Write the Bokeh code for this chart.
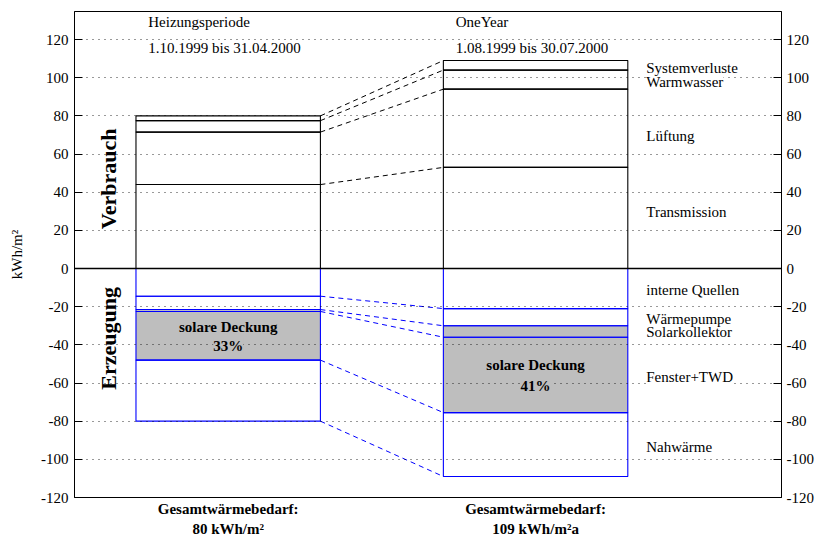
import numpy as np
from bokeh.plotting import figure
from bokeh.models import Range1d, FixedTicker, LinearAxis, Label, Span
from bokeh.embed import file_html
from bokeh.resources import INLINE

# ---------------- data ----------------
periods = ["Heizungsperiode", "OneYear"]
period_dates = ["1.10.1999 bis 31.04.2000", "1.08.1999 bis 30.07.2000"]
bar_x = [1, 2]

verbrauch_names = ["Transmission", "Lüftung", "Warmwasser", "Systemverluste"]
verbrauch_heiz = [44.0, 27.5, 6.0, 2.5]
verbrauch_year = [53.0, 41.0, 10.0, 5.0]

erzeugung_names = ["interne Quellen", "Wärmepumpe", "Solarkollektor", "Fenster+TWD", "Nahwärme"]
erzeugung_heiz = [14.5, 7.0, 1.0, 25.5, 32.0]
erzeugung_year = [21.0, 9.0, 6.0, 39.5, 33.5]
solar_parts = ["Solarkollektor", "Fenster+TWD"]

deckung = ["33%", "41%"]
gesamt_title = "Gesamtwärmebedarf:"
gesamt = ["80 kWh/m²", "109 kWh/m²a"]
y_ticks = [-120, -100, -80, -60, -40, -20, 0, 20, 40, 60, 80, 100, 120]

# ---------------- layout / style ----------------
FONT = "Liberation Serif"
BLUE = "#0000ff"
GRAY = "#bebebe"
HALF = 0.3
verbrauch_label_y = [29.4, 69.7, 97.5, 105.3]
verbrauch_label_bg = [False, False, True, True]
erzeugung_label_y = [-11.0, -26.7, -33.5, -57.1, -93.3]
erzeugung_label_bg = [False, False, False, True, False]

p = figure(width=816, height=540,
           x_range=Range1d(0.5, 2.8), y_range=Range1d(-120, 134.7),
           output_backend="svg", toolbar_location=None,
           x_axis_type=None,
           min_border_left=74, min_border_right=34,
           min_border_top=11, min_border_bottom=43)
p.background_fill_color = "white"
p.border_fill_color = "white"
p.outline_line_color = "black"
p.outline_line_width = 1
p.xgrid.visible = False

tick_text = {t: str(t) for t in y_ticks}

# left axis
ya = p.yaxis[0]
ya.ticker = FixedTicker(ticks=y_ticks)
ya.major_label_overrides = tick_text
ya.major_tick_in = 8
ya.major_tick_out = 0
ya.minor_tick_in = 0
ya.minor_tick_out = 0
ya.axis_line_color = "black"
ya.major_tick_line_color = "black"
ya.major_label_text_font = FONT
ya.major_label_text_font_size = "15px"
ya.major_label_text_color = "black"
ya.major_label_standoff = 6
ya.axis_label = "kWh/m²"
ya.axis_label_text_font = FONT
ya.axis_label_text_font_size = "15px"
ya.axis_label_text_font_style = "normal"
ya.axis_label_text_color = "black"
ya.axis_label_standoff = 13

# right axis
ra = LinearAxis(ticker=FixedTicker(ticks=y_ticks),
                major_label_overrides=tick_text,
                major_tick_in=8, major_tick_out=0,
                minor_tick_in=0, minor_tick_out=0,
                major_label_standoff=5,
                major_label_text_font=FONT, major_label_text_font_size="15px",
                major_label_text_color="black",
                axis_line_color="black", major_tick_line_color="black")
p.add_layout(ra, "right")

# bottom axis carrying the totals
xa = LinearAxis(ticker=FixedTicker(ticks=bar_x),
                major_label_overrides={bx: gesamt_title + "\n" + g for bx, g in zip(bar_x, gesamt)},
                major_tick_in=0, major_tick_out=0,
                minor_tick_in=0, minor_tick_out=0,
                major_label_standoff=3,
                major_label_text_font=FONT, major_label_text_font_size="15px",
                major_label_text_font_style="bold",
                major_label_text_line_height=1.3,
                major_label_text_color="black",
                axis_line_color=None, major_tick_line_color=None)
p.add_layout(xa, "below")

# grid
p.ygrid.ticker = FixedTicker(ticks=[t for t in y_ticks if t != 0])
p.ygrid.grid_line_color = "black"
p.ygrid.grid_line_alpha = 0.8
p.ygrid.grid_line_dash = "1 5"
p.ygrid.level = "guide"

# ---------------- bars ----------------
series_v = [verbrauch_heiz, verbrauch_year]
series_e = [erzeugung_heiz, erzeugung_year]
cum_v = [np.cumsum(s) for s in series_v]
cum_e = [np.cumsum(s) for s in series_e]

for i, xc in enumerate(bar_x):
    for j, name in enumerate(erzeugung_names):
        if name in solar_parts:
            top = -(cum_e[i][j] - series_e[i][j])
            bot = -cum_e[i][j]
            p.quad(left=[xc - HALF], right=[xc + HALF], top=[top], bottom=[bot],
                   fill_color=GRAY, line_color=None)
    p.quad(left=[xc - HALF] * len(series_v[i]), right=[xc + HALF] * len(series_v[i]),
           bottom=list(cum_v[i] - np.array(series_v[i])), top=list(cum_v[i]),
           fill_color=None, line_color="black", line_width=1.1)
    p.quad(left=[xc - HALF] * len(series_e[i]), right=[xc + HALF] * len(series_e[i]),
           top=list(-(cum_e[i] - np.array(series_e[i]))), bottom=list(-cum_e[i]),
           fill_color=None, line_color=BLUE, line_width=1.1)

# dashed connectors
p.segment(x0=[bar_x[0] + HALF] * len(cum_v[0]), y0=list(cum_v[0]),
          x1=[bar_x[1] - HALF] * len(cum_v[1]), y1=list(cum_v[1]),
          line_color="black", line_dash="5 4", line_width=1)
p.segment(x0=[bar_x[0] + HALF] * len(cum_e[0]), y0=list(-cum_e[0]),
          x1=[bar_x[1] - HALF] * len(cum_e[1]), y1=list(-cum_e[1]),
          line_color=BLUE, line_dash="5 4", line_width=1)

p.add_layout(Span(location=0, dimension="width", line_color="black", line_width=1.6))


def lab(x, y, text, size="15px", style="normal", align="left", bg=None, angle=0.0):
    kw = dict(x=x, y=y, text=text, text_font=FONT, text_font_size=size,
              text_font_style=style, text_color="black", text_align=align,
              text_baseline="middle", angle=angle)
    if bg is not None:
        kw["background_fill_color"] = bg
    p.add_layout(Label(**kw))


# headers
for i, xc in enumerate(bar_x):
    lab(xc - 0.26, 129.3, periods[i])
    lab(xc - 0.26, 115.4, period_dates[i], bg="white")

# segment names (drawn bottom-up so upper boxes do not hide lower text)
name_x = bar_x[1] + HALF + 0.06
for n, yy, b in zip(verbrauch_names, verbrauch_label_y, verbrauch_label_bg):
    lab(name_x, yy, n, bg="white" if b else None)
for n, yy, b in zip(erzeugung_names, erzeugung_label_y, erzeugung_label_bg):
    lab(name_x, yy, n, bg="white" if b else None)

# big rotated labels
lab(0.61, 47.0, "Verbrauch", size="22px", style="bold", align="center", angle=np.pi / 2)
lab(0.61, -36.6, "Erzeugung", size="22px", style="bold", align="center", angle=np.pi / 2)

# solar coverage
deck_y = [(-30.6, -40.5), (-50.4, -61.5)]
for i, xc in enumerate(bar_x):
    lab(xc, deck_y[i][0], "solare Deckung", style="bold", align="center")
    lab(xc, deck_y[i][1], deckung[i], style="bold", align="center", bg=GRAY)

open("out.html", "w").write(file_html(p, INLINE))
